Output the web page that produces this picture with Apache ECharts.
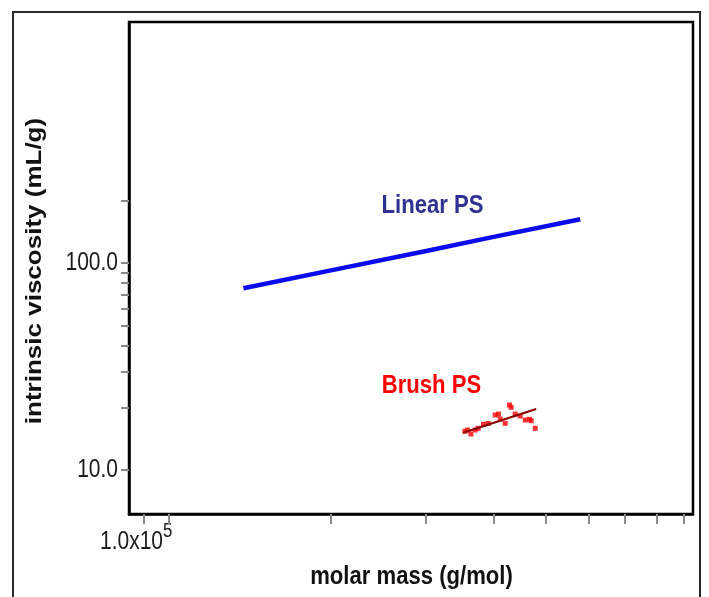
<!DOCTYPE html>
<html>
<head>
<meta charset="utf-8">
<script src="https://cdn.jsdelivr.net/npm/echarts@6/dist/echarts.min.js"></script>
<style>html,body{margin:0;padding:0;background:#fff}#c{width:709px;height:597px}</style>
</head>
<body>
<div id="c"></div>
<script>
// ---- data ----
const linearMass = [137700, 200000, 300000, 400000, 578700];
const linearViscosity = [75.5, 92.1, 114.3, 133.7, 162.6];

const brushMass = [353900, 358000, 363100, 369800, 374500, 383100, 391000, 402700, 408400, 411400, 420200, 428000, 431000, 438500, 448000, 457700, 466100, 469500, 477600];
const brushViscosity = [15.38, 15.6, 14.92, 15.61, 15.9, 16.63, 16.78, 18.44, 18.64, 17.64, 16.81, 20.61, 20.09, 18.64, 18.24, 17.44, 17.58, 17.3, 15.9];

const fitMass = [351300, 479600];
const fitViscosity = [15.14, 19.71];

const xTickValues = [90000, 100000, 200000, 300000, 400000, 500000, 600000, 700000, 800000, 900000];
const xLabelValues = [100000];
const xLabelTexts = ['{a|1.0x10}{b|5}'];
const yTickValues = [10, 20, 30, 40, 50, 60, 70, 80, 90, 100, 200];
const yLabelValues = [10, 100];
const yLabelTexts = ['10.0', '100.0'];

const xRange = [84560, 935600];
const yRange = [6.131, 1460];

const pair = (xs, ys) => xs.map((x, i) => [x, ys[i]]);

const sans = "'Liberation Sans', Arial, sans-serif";
const squeeze = 0.84;

const baseGraphic = [
  {id: 'frame', type: 'polyline', shape: {points: [[13, 600], [13, 12], [700, 12], [700, 600]]},
   style: {stroke: '#2a2a2a', lineWidth: 2, fill: null}, silent: true},
  {id: 'ytitle', type: 'text', x: 35, y: 271, rotation: Math.PI / 2, scaleY: 0.85,
   style: {text: 'intrinsic viscosity (mL/g)', font: 'bold 26px ' + sans, fill: '#111', textAlign: 'center', textVerticalAlign: 'middle'}},
  {id: 'xtitle', type: 'text', x: 411.5, y: 577, scaleX: 0.85,
   style: {text: 'molar mass (g/mol)', font: 'bold 26px ' + sans, fill: '#111', textAlign: 'center', textVerticalAlign: 'middle'}},
  {id: 'lin', type: 'text', x: 432.5, y: 206, scaleX: 0.85,
   style: {text: 'Linear PS', font: 'bold 26px ' + sans, fill: '#2e3192', textAlign: 'center', textVerticalAlign: 'middle'}},
  {id: 'bru', type: 'text', x: 431.5, y: 386, scaleX: 0.85,
   style: {text: 'Brush PS', font: 'bold 26px ' + sans, fill: '#ff0000', textAlign: 'center', textVerticalAlign: 'middle'}}
];

const chart = echarts.init(document.getElementById('c'), null, {renderer: 'canvas'});
chart.setOption({
  animation: false,
  backgroundColor: '#fff',
  grid: {left: 129, right: 16, top: 22, bottom: 83, show: true, borderColor: '#000', borderWidth: 2.5},
  xAxis: {
    type: 'log', logBase: 10, min: xRange[0], max: xRange[1],
    axisLine: {show: true, lineStyle: {color: '#000', width: 2.5}},
    axisTick: {show: true, customValues: xTickValues, length: 10, lineStyle: {color: '#8a8a8a', width: 2}},
    splitLine: {show: false}, minorTick: {show: false},
    axisLabel: {show: false}
  },
  yAxis: {
    type: 'log', logBase: 10, min: yRange[0], max: yRange[1],
    axisLine: {show: true, lineStyle: {color: '#000', width: 2.5}},
    axisTick: {show: true, customValues: yTickValues, length: 8, lineStyle: {color: '#8a8a8a', width: 2}},
    splitLine: {show: false}, minorTick: {show: false},
    axisLabel: {show: false}
  },
  series: [
    {
      name: 'Linear PS', type: 'line', data: pair(linearMass, linearViscosity),
      symbol: 'none', lineStyle: {color: '#0a0af0', width: 4.5}, z: 3
    },
    {
      name: 'Brush PS', type: 'scatter', data: pair(brushMass, brushViscosity),
      symbol: 'rect', symbolSize: 5, itemStyle: {color: '#ff0000'}, z: 3
    },
    {
      name: 'Brush fit', type: 'line', data: pair(fitMass, fitViscosity),
      symbol: 'none', lineStyle: {color: '#8b0000', width: 2}, z: 4
    }
  ],
  graphic: baseGraphic
});

// Tick labels: positioned through the axes' own scales, drawn condensed like the original.
const axisY = chart.convertToPixel({yAxisIndex: 0}, yRange[0]);
const axisX = chart.convertToPixel({xAxisIndex: 0}, xRange[0]);
const labelGraphic = [];
xLabelValues.forEach((v, i) => {
  const px = chart.convertToPixel({xAxisIndex: 0}, v);
  labelGraphic.push({
    id: 'xl' + i, type: 'text', x: px + 4, y: axisY + 28, scaleX: squeeze,
    style: {
      text: xLabelTexts[i], textAlign: 'right', textVerticalAlign: 'middle',
      rich: {
        a: {font: '25px ' + sans, fill: '#1a1a1a', lineHeight: 42, verticalAlign: 'middle'},
        b: {font: '20px ' + sans, fill: '#1a1a1a', lineHeight: 20, verticalAlign: 'top'}
      }
    }
  });
});
yLabelValues.forEach((v, i) => {
  const py = chart.convertToPixel({yAxisIndex: 0}, v);
  labelGraphic.push({
    id: 'yl' + i, type: 'text', x: axisX - 11, y: py, scaleX: squeeze,
    style: {text: yLabelTexts[i], font: '25px ' + sans, fill: '#1a1a1a', textAlign: 'right', textVerticalAlign: 'middle'}
  });
});
chart.setOption({graphic: baseGraphic.concat(labelGraphic)});
</script>
</body>
</html>
